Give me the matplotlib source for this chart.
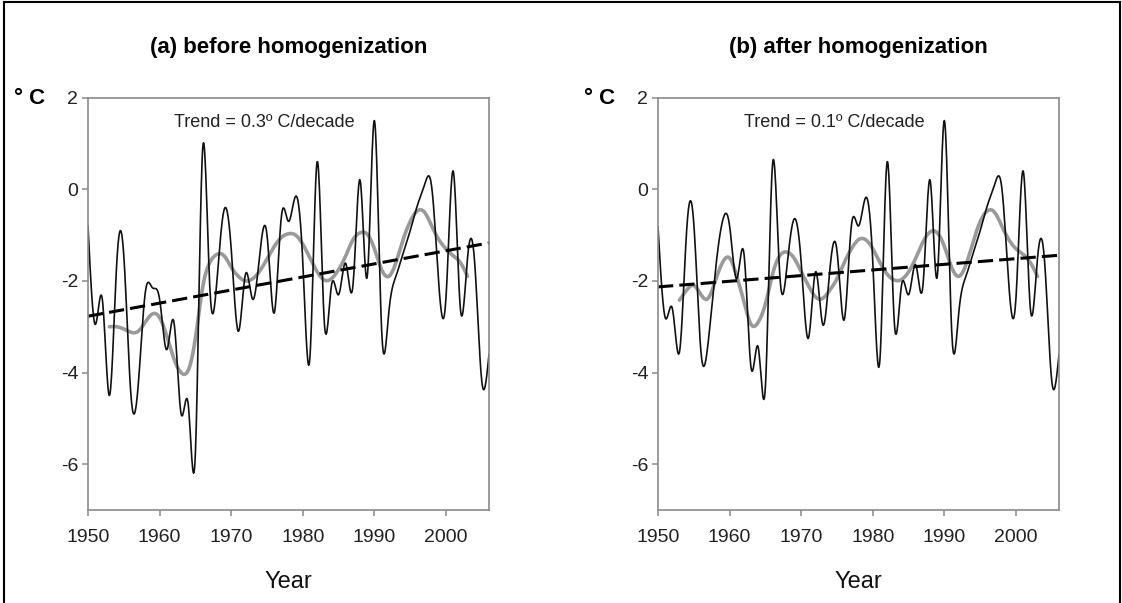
import numpy as np
import matplotlib.pyplot as plt
from matplotlib.lines import Line2D

plt.rcParams['font.family'] = ['Liberation Sans', 'DejaVu Sans']
plt.rcParams['axes.unicode_minus'] = False

# annual temperature (deg C), 1950-2006
years = np.arange(1950, 2007)
temp_before = [-0.8, -2.95, -2.4, -4.5, -1.65, -1.45, -4.5, -4.3, -2.25, -2.15,
               -2.4, -3.5, -2.9, -4.9, -4.7, -5.75, 0.85, -2.1, -2.0, -0.45,
               -1.3, -3.1, -1.85, -2.4, -1.4, -1.0, -2.7, -0.6, -0.7, -0.15,
               -1.6, -3.65, 0.6, -2.9, -2.1, -2.3, -1.62, -2.1, 0.2, -1.9,
               1.5, -3.05, -2.7, -1.9, -1.4, -0.9, -0.35, 0.1, 0.05, -2.1,
               -2.35, 0.4, -2.6, -1.5, -1.6, -4.2, -3.6]
temp_after = [-0.82, -2.8, -2.6, -3.55, -0.9, -0.75, -3.55, -3.35, -1.8, -0.7,
              -0.8, -1.95, -1.4, -3.9, -3.45, -4.3, 0.55, -1.85, -1.7, -0.65,
              -1.6, -3.25, -1.8, -2.95, -1.75, -1.35, -2.85, -0.8, -0.8, -0.18,
              -1.6, -3.7, 0.6, -2.9, -2.1, -2.3, -1.65, -2.1, 0.2, -1.9,
              1.5, -3.05, -2.7, -1.9, -1.4, -0.9, -0.35, 0.1, 0.05, -2.1,
              -2.35, 0.4, -2.6, -1.5, -1.6, -4.2, -3.6]

# smoothed series, 1953-2003
smooth_years = np.arange(1953, 2004)
smooth_before = [-3.0, -3.0, -3.05, -3.12, -3.1, -2.9, -2.72, -2.8, -3.2, -3.7,
                 -4.0, -3.95, -3.25, -2.15, -1.6, -1.42, -1.45, -1.7, -1.9, -2.0,
                 -1.95, -1.78, -1.52, -1.25, -1.05, -0.97, -1.0, -1.2, -1.5, -1.8,
                 -1.98, -1.95, -1.75, -1.45, -1.1, -0.95, -0.98, -1.3, -1.75, -1.9,
                 -1.6, -1.1, -0.7, -0.47, -0.5, -0.8, -1.1, -1.3, -1.45, -1.6,
                 -1.9]
smooth_after = [-2.42, -2.2, -2.1, -2.3, -2.38, -2.0, -1.6, -1.5, -1.9, -2.45,
                -2.95, -2.9, -2.5, -1.85, -1.45, -1.37, -1.5, -1.8, -2.1, -2.35,
                -2.38, -2.2, -1.95, -1.6, -1.3, -1.1, -1.1, -1.3, -1.6, -1.85,
                -1.98, -1.97, -1.8, -1.5, -1.15, -0.93, -0.95, -1.25, -1.7, -1.9,
                -1.65, -1.15, -0.7, -0.47, -0.5, -0.8, -1.1, -1.3, -1.42, -1.6,
                -1.9]

# linear trends (end points)
trend_years = [1950, 2006]
trend_before = [-2.77, -1.17]
trend_after = [-2.13, -1.44]

titles = ['(a) before homogenization', '(b) after homogenization']
trend_labels = ['Trend = 0.3º C/decade', 'Trend = 0.1º C/decade']


def spline(x, y, per=16):
    # natural cubic spline through the yearly values (line style of the original)
    x = np.asarray(x, float)
    y = np.asarray(y, float)
    n = len(x)
    h = np.diff(x)
    A = np.zeros((n, n))
    r = np.zeros(n)
    A[0, 0] = A[-1, -1] = 1
    for i in range(1, n - 1):
        A[i, i - 1] = h[i - 1]
        A[i, i] = 2 * (h[i - 1] + h[i])
        A[i, i + 1] = h[i]
        r[i] = 6 * ((y[i + 1] - y[i]) / h[i] - (y[i] - y[i - 1]) / h[i - 1])
    M = np.linalg.solve(A, r)
    xs = np.linspace(x[0], x[-1], (n - 1) * per + 1)
    k = np.clip(np.searchsorted(x, xs) - 1, 0, n - 2)
    hh = x[k + 1] - x[k]
    a = (x[k + 1] - xs) / hh
    b = (xs - x[k]) / hh
    ys = a * y[k] + b * y[k + 1] + ((a**3 - a) * M[k] + (b**3 - b) * M[k + 1]) * hh**2 / 6
    return xs, ys


W, H = 1122, 603
fig = plt.figure(figsize=(W / 100, H / 100), dpi=100)

panels = [(temp_before, smooth_before, trend_before),
          (temp_after, smooth_after, trend_after)]
lefts = [88, 658]
aw = 401

for i, (temp, smooth, trend) in enumerate(panels):
    ax = fig.add_axes([lefts[i] / W, 1 - 510 / H, aw / W, 412.3 / H])
    xs, ys = spline(smooth_years, smooth)
    ax.plot(xs, ys, color='#9a9a9a', lw=2.6, solid_capstyle='round')
    xs, ys = spline(years, temp)
    ax.plot(xs, ys, color='#111111', lw=1.2)
    ax.plot(trend_years, trend, color='black', lw=2.2, dashes=(5, 2))

    ax.set_xlim(1950, 2006)
    ax.set_ylim(-7, 2)
    ax.set_xticks(range(1950, 2001, 10))
    ax.set_yticks([2, 0, -2, -4, -6])
    for s in ax.spines.values():
        s.set_color('#8a8a8a')
        s.set_linewidth(1.2)
    ax.tick_params(direction='out', length=4, width=1.1, color='#8a8a8a',
                   labelsize=14, labelcolor='#222222')
    ax.tick_params(axis='x', pad=10)
    ax.tick_params(axis='y', pad=3)
    ax.set_xlabel('Year', fontsize=17, labelpad=18, color='#111111')

    ax.text(0.44, 0.94, trend_labels[i], transform=ax.transAxes,
            ha='center', va='center', fontsize=13, color='#222222')
    fig.text((lefts[i] + aw / 2) / W, 1 - 47 / H, titles[i], ha='center',
             va='center', fontsize=16, fontweight='bold')
    fig.text((lefts[i] - 43) / W, 1 - 98 / H, '° C', ha='right', va='center',
             fontsize=16, fontweight='bold')

# outer frame
fig.add_artist(Line2D([4 / W, 4 / W], [0, 1 - 2 / H], color='black', lw=1.5))
fig.add_artist(Line2D([4 / W, 1120 / W], [1 - 2 / H, 1 - 2 / H], color='black', lw=1.5))
fig.add_artist(Line2D([1120 / W, 1120 / W], [0, 1 - 2 / H], color='black', lw=1.5))

fig.savefig('out.png', dpi=100)
